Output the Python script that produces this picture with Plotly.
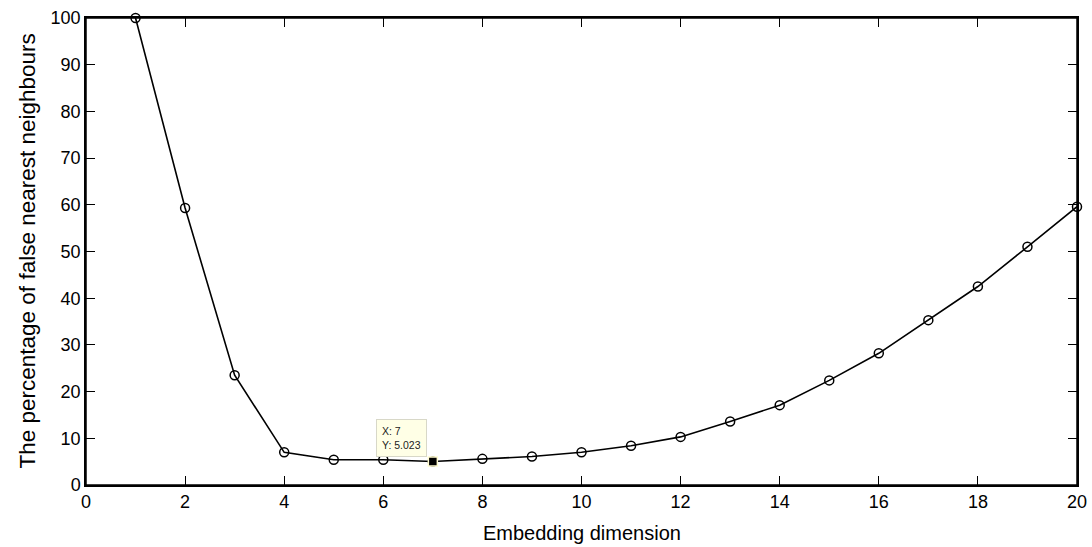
import plotly.graph_objects as go

# False nearest neighbours percentage versus embedding dimension
dimension = list(range(1, 21))
fnn_percent = [100.0, 59.3, 23.5, 7.0, 5.4, 5.4, 5.023, 5.6, 6.1, 7.0,
               8.4, 10.3, 13.6, 17.1, 22.4, 28.2, 35.3, 42.5, 51.0, 59.6]

# Highlighted data tip
tip_x = 7
tip_y = 5.023

x_ticks = list(range(0, 21, 2))
y_ticks = list(range(0, 101, 10))

x_title = "Embedding dimension"
y_title = "The percentage of false nearest neighbours"

FONT = "Liberation Sans, Arial, sans-serif"

fig = go.Figure()

fig.add_trace(go.Scatter(
    x=dimension, y=fnn_percent,
    mode="lines+markers",
    line=dict(color="black", width=1.6),
    marker=dict(symbol="circle-open", size=9, color="black",
                line=dict(width=1.5, color="black")),
    hoverinfo="x+y", showlegend=False, cliponaxis=False,
))

fig.add_trace(go.Scatter(
    x=[tip_x], y=[tip_y],
    mode="markers",
    marker=dict(symbol="square", size=9, color="black",
                line=dict(width=1.5, color="#fffbd0")),
    showlegend=False, hoverinfo="skip", cliponaxis=False,
))

# Data-tip box
fig.add_annotation(
    x=tip_x, y=tip_y, xref="x", yref="y",
    text=f"X: {tip_x}<br>Y: {tip_y}",
    showarrow=False, align="left",
    xanchor="right", yanchor="bottom", xshift=-6, yshift=5,
    font=dict(family=FONT, size=10.5, color="#222222"),
    bgcolor="#ffffe6", bordercolor="#d8d8c8", borderwidth=1, borderpad=5,
)

# Axis titles
fig.add_annotation(
    x=0.5, y=0, xref="paper", yref="paper", text=x_title, showarrow=False,
    xanchor="center", yanchor="middle", yshift=-48,
    font=dict(family=FONT, size=20, color="black"),
)
fig.add_annotation(
    x=0, y=0.5, xref="paper", yref="paper", text=y_title, showarrow=False,
    textangle=-90, xanchor="center", yanchor="middle", xshift=-59,
    font=dict(family=FONT, size=22.5, color="black"),
)

# Closed box around the plotting area
fig.add_shape(type="rect", xref="paper", yref="paper", x0=0, y0=0, x1=1, y1=1,
              line=dict(color="black", width=1.5), layer="above")

axis_common = dict(
    showline=True, linecolor="black", linewidth=1.5, mirror="allticks",
    ticks="inside", ticklen=9, tickcolor="black", tickwidth=1.2,
    showgrid=False, zeroline=False, automargin=False,
    tickfont=dict(family=FONT, size=18, color="black"),
)

fig.update_xaxes(range=[0, 20], tickvals=x_ticks, **axis_common)
fig.update_yaxes(range=[0, 100], tickvals=y_ticks, **axis_common)

fig.update_layout(
    template="none",
    width=1092, height=547,
    margin=dict(l=86, r=15, t=18, b=62),
    plot_bgcolor="white", paper_bgcolor="white",
)

fig.write_html("out.html")
